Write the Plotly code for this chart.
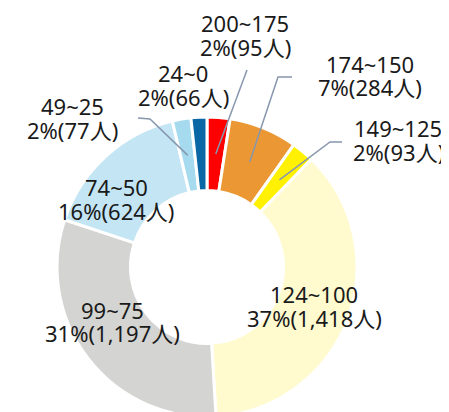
import math
import plotly.graph_objects as go

# ---- data ----
labels = ["200~175", "174~150", "149~125", "124~100", "99~75", "74~50", "49~25", "24~0"]
counts = [95, 284, 93, 1418, 1197, 624, 77, 66]

# ---- style ----
colors = ["#FF0000", "#EB9834", "#FFF100", "#FFFBCF", "#D4D5D3", "#C3E5F4", "#A6DBEF", "#0A67A5"]
OFF = 8                      # page body margin
W, H = 449 - OFF, 417 - OFF
CX, CY, R_OUT, HOLE = 207, 267, 150, 0.51   # screen px
FONT = "Noto Sans, Noto Sans CJK JP, sans-serif"
FSIZE = 22
PITCH = 23.3
# label block centres (screen px) and leader-line elbows (screen px, None = no line)
label_pos = [(245, 35), (370, 75.5), (398, 140), (314, 306), (112, 321.5), (116, 199), (72, 118), (183, 85)]
leaders = [[(247, 70)], [(292, 77), (278, 77)], [(342, 142), (330, 142)], None, None, None,
           [(138, 118), (150, 119)], None]
LINE_COLOR = "#8797AD"


def to_paper(x, y):
    return (x - OFF) / W, 1 - (y - OFF) / H


total = sum(counts)
fig = go.Figure(go.Pie(
    labels=labels, values=counts, sort=False, direction="clockwise", rotation=0,
    hole=HOLE, textinfo="none", hoverinfo="skip", showlegend=False,
    marker=dict(colors=colors, line=dict(color="white", width=3)),
    domain=dict(x=[(CX - R_OUT - OFF) / W, (CX + R_OUT - OFF) / W],
                y=[max(0, 1 - (CY + R_OUT - OFF) / H), 1 - (CY - R_OUT - OFF) / H]),
))

annotations = []
shapes = []
cum = 0
r_mid = R_OUT * (1 + HOLE) / 2
for lab, n, (lx, ly), lead in zip(labels, counts, label_pos, leaders):
    mid = (cum + n / 2) / total * 2 * math.pi
    cum += n
    pct = round(n / total * 100)
    lines = [lab, f"{pct}%({n:,}人)"]
    for i, t in enumerate(lines):
        x, y = to_paper(lx, ly + (i - 0.5) * PITCH)
        annotations.append(dict(text=t, x=x, y=y, xref="paper", yref="paper",
                                xanchor="center", yanchor="middle", showarrow=False,
                                font=dict(family=FONT, size=FSIZE, color="#1A1A1A")))
    if lead:
        ax = CX + r_mid * math.sin(mid)
        ay = CY - r_mid * math.cos(mid)
        pts = lead + [(ax, ay)]
        path = "M " + " L ".join(f"{to_paper(px_, py_)[0]:.5f},{to_paper(px_, py_)[1]:.5f}" for px_, py_ in pts)
        shapes.append(dict(type="path", path=path, xref="paper", yref="paper",
                           line=dict(color=LINE_COLOR, width=1.5)))

fig.update_layout(width=W, height=H, margin=dict(l=0, r=0, t=0, b=0),
                  paper_bgcolor="white", plot_bgcolor="white",
                  annotations=annotations, shapes=shapes)
fig.write_html("out.html")
